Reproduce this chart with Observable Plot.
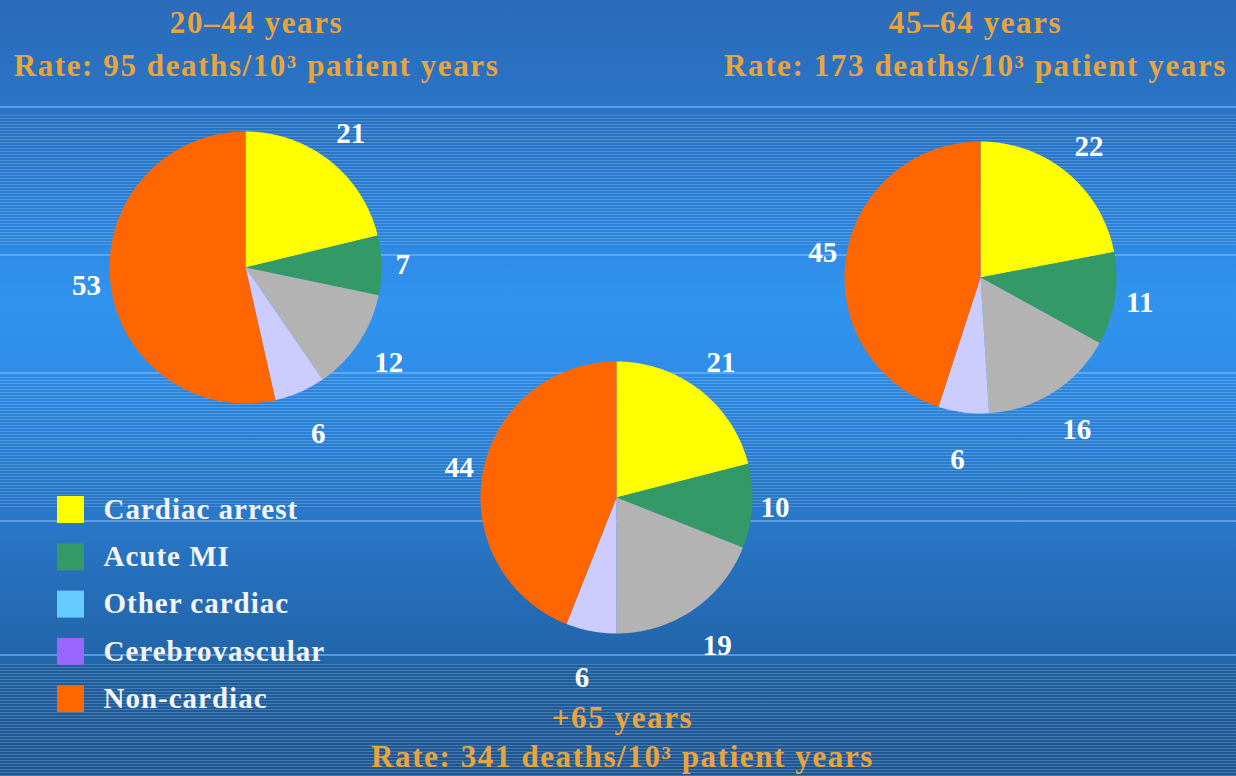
<!DOCTYPE html>
<html>
<head>
<meta charset="utf-8">
<script src="https://cdn.jsdelivr.net/npm/d3@7"></script>
<script src="https://cdn.jsdelivr.net/npm/@observablehq/plot@0.6"></script>
<style>
html, body { margin: 0; padding: 0; background: #2a6cba; }
#chart {
  position: relative; width: 1236px; height: 776px; overflow: hidden;
  background-image:
    linear-gradient(rgba(130,185,245,0.6), rgba(130,185,245,0.6)),
    linear-gradient(rgba(130,185,245,0.6), rgba(130,185,245,0.6)),
    linear-gradient(rgba(130,185,245,0.6), rgba(130,185,245,0.6)),
    linear-gradient(rgba(130,185,245,0.6), rgba(130,185,245,0.6)),
    linear-gradient(rgba(130,185,245,0.6), rgba(130,185,245,0.6)),
    repeating-linear-gradient(180deg, rgba(255,255,255,0.16) 0px, rgba(255,255,255,0.16) 1px, rgba(0,0,0,0.04) 1px, rgba(0,0,0,0.04) 3px),
    repeating-linear-gradient(180deg, rgba(255,255,255,0.16) 0px, rgba(255,255,255,0.16) 1px, rgba(0,0,0,0.04) 1px, rgba(0,0,0,0.04) 3px),
    repeating-linear-gradient(180deg, rgba(255,255,255,0.16) 0px, rgba(255,255,255,0.16) 1px, rgba(0,0,0,0.08) 1px, rgba(0,0,0,0.08) 3px),
    linear-gradient(180deg, #2a6cba 0px, #2a74c6 110px, #2e88e2 230px, #3094ee 300px, #2f8de8 380px, #2a7bcd 500px, #256db8 590px, #2266aa 660px, #235d9c 776px);
  background-size:
    100% 2px, 100% 2px, 100% 2px, 100% 2px, 100% 2px,
    100% 132px, 100% 132px, 100% 112px, 100% 100%;
  background-position:
    0 106px, 0 254px, 0 372px, 0 520px, 0 654px,
    0 115px, 0 377px, 0 664px, 0 0;
  background-repeat: no-repeat;
}
#chart svg { position: absolute; left: 0; top: 0; }
</style>
</head>
<body>
<div id="chart"></div>
<script>
// ---- data ----
const categories = ["Cardiac arrest", "Acute MI", "Other cardiac", "Cerebrovascular", "Non-cardiac"];
const groups = ["20–44 years", "45–64 years", "+65 years"];
const rates = [95, 173, 341];
const values20to44 = [21, 7, 12, 6, 53];
const values45to64 = [22, 11, 16, 6, 45];
const values65plus = [21, 10, 19, 6, 44];

// ---- styles / layout ----
const sliceColors = ["#ffff00", "#339966", "#b3b3b3", "#ccccff", "#ff6600"];
const legendColors = ["#ffff00", "#339966", "#66ccff", "#9966ff", "#ff6600"];
const W = 1236, H = 776;
const R = 136;
const centers = [[245, 267], [980, 277], [616, 497]];
const titlePos = [[256, 23, 66], [975, 23, 66], [622, 718, 757]];
const legendX = 70, legendTextX = 103, legendY0 = 509, legendStep = 47.3;
const titleColor = "#e9a43c";
const labelColor = "#ffffff";
const legendTextColor = "#f4f4f4";
const serif = "'Liberation Serif', 'Times New Roman', serif";

const allValues = [values20to44, values45to64, values65plus];
const pie = d3.pie().sort(null).value(d => d);
const slices = [], labels = [];
allValues.forEach((vals, g) => {
  const [cx, cy] = centers[g];
  pie(vals).forEach((a, i) => {
    const span = a.endAngle - a.startAngle;
    const n = Math.max(2, Math.ceil(span / (Math.PI / 180)));
    const ring = [[cx, cy]];
    for (let k = 0; k <= n; k++) {
      const t = a.startAngle + span * k / n;
      ring.push([cx + R * Math.sin(t), cy - R * Math.cos(t)]);
    }
    ring.push([cx, cy]);
    slices.push({type: "Feature", properties: {category: categories[i], group: groups[g]},
                 geometry: {type: "Polygon", coordinates: [ring]}});
    const m = (a.startAngle + a.endAngle) / 2;
    const c = Math.cos(m);
    const d = R + 21 + (c > 0 ? 17 : 27) * Math.abs(c);
    labels.push({x: cx + d * Math.sin(m), y: cy - d * Math.cos(m), text: String(vals[i])});
  });
});

const titles = groups.map((g, i) => ({line1: g, line2: `Rate: ${rates[i]} deaths/10³ patient years`, pos: titlePos[i]}));
const titleLines = titles.flatMap(t => [
  {text: t.line1, x: t.pos[0], y: t.pos[1]},
  {text: t.line2, x: t.pos[0], y: t.pos[2]}
]);
const legendItems = categories.map((c, i) => ({category: c, y: legendY0 + i * legendStep}));

const chart = Plot.plot({
  width: W,
  height: H,
  projection: d3.geoIdentity(),
  color: {domain: categories, range: sliceColors},
  style: {background: "transparent", overflow: "visible"},
  marks: [
    Plot.geo(slices, {fill: d => d.properties.category}),
    Plot.text(labels, {x: "x", y: "y", text: "text", fill: labelColor, fontSize: 29, fontWeight: "bold", fontFamily: serif}),
    Plot.text(titleLines, {x: "x", y: "y", text: "text", fill: titleColor, fontSize: 31, fontWeight: "bold", fontFamily: serif}),
    ...legendItems.map((d, i) => Plot.dot([d], {x: () => legendX, y: "y", symbol: "square", r: 27 / Math.sqrt(Math.PI), fill: legendColors[i], stroke: "none"})),
    Plot.text(legendItems, {x: () => legendTextX, y: "y", text: "category", textAnchor: "start", fill: legendTextColor, fontSize: 29, fontWeight: "bold", fontFamily: serif})
  ]
});
// letter spacing to match the wide lettering of the original slide
d3.select(chart).selectAll("g").filter(function() { return this.getAttribute("fill") === titleColor; })
  .selectAll("text").attr("letter-spacing", "1.6px");
d3.select(chart).selectAll("g").filter(function() { return this.getAttribute("fill") === legendTextColor; })
  .selectAll("text").attr("letter-spacing", "1px");
document.getElementById("chart").appendChild(chart);
</script>
</body>
</html>
